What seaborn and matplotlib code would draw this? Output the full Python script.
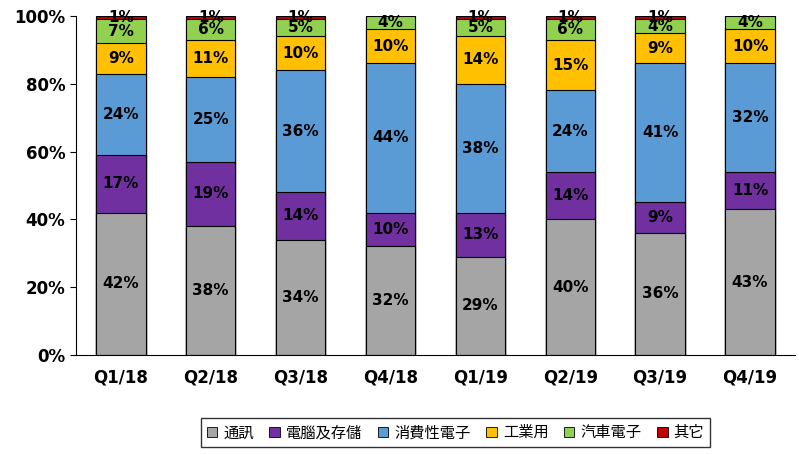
import matplotlib
matplotlib.use("Agg")
import matplotlib.pyplot as plt
import seaborn as sns
import numpy as np
import pandas as pd
from matplotlib.patches import Patch
from matplotlib.font_manager import FontProperties

quarters = ["Q1/18", "Q2/18", "Q3/18", "Q4/18", "Q1/19", "Q2/19", "Q3/19", "Q4/19"]
series_names = ["通訊", "電腦及存儲", "消費性電子", "工業用", "汽車電子", "其它"]
comm = [42, 38, 34, 32, 29, 40, 36, 43]
pc = [17, 19, 14, 10, 13, 14, 9, 11]
consumer = [24, 25, 36, 44, 38, 24, 41, 32]
industrial = [9, 11, 10, 10, 14, 15, 9, 10]
auto = [7, 6, 5, 4, 5, 6, 4, 4]
other = [1, 1, 1, 0, 1, 1, 1, 0]
colors = ["#a5a5a5", "#7030a0", "#5b9bd5", "#ffc000", "#92d050", "#c00000"]

series = [comm, pc, consumer, industrial, auto, other]
vals = np.array(series, dtype=float)
cum = np.cumsum(vals, axis=0)

fig = plt.figure(figsize=(7.99, 4.55), dpi=100)
ax = fig.add_axes([0.095, 0.22, 0.9, 0.745])

for i in range(len(series) - 1, -1, -1):
    df = pd.DataFrame({"q": quarters, "v": cum[i]})
    sns.barplot(data=df, x="q", y="v", color=colors[i], edgecolor="black",
                linewidth=0.8, width=0.55, saturation=1, ax=ax)

for i in range(len(series)):
    for j in range(len(quarters)):
        v = vals[i, j]
        if v <= 0:
            continue
        y = cum[i, j] - v / 2
        ax.text(j, y, f"{int(v)}%", ha="center", va="center", fontsize=11,
                fontweight="bold", color="black", family="DejaVu Sans")

ax.set_ylim(0, 100)
ax.set_xlim(-0.5, 7.5)
ax.set_yticks(range(0, 101, 20))
ax.set_yticklabels([f"{t}%" for t in range(0, 101, 20)], fontsize=12, fontweight="bold", family="DejaVu Sans")
ax.set_xticklabels(quarters, fontsize=12, fontweight="bold", family="DejaVu Sans")
ax.set_xlabel("")
ax.set_ylabel("")
ax.tick_params(axis="x", length=0, pad=10)
ax.tick_params(axis="y", length=4)
for s in ["top", "right"]:
    ax.spines[s].set_visible(False)

handles = [Patch(facecolor=c, edgecolor="black", linewidth=0.6) for c in colors]
fig.legend(handles, series_names, loc="lower center", bbox_to_anchor=(0.57, 0.0),
           ncol=6, frameon=True, fancybox=False, edgecolor="black",
           prop=FontProperties(family="Noto Sans CJK JP", size=11),
           handlelength=0.7, handleheight=0.7, columnspacing=1.0, handletextpad=0.4)

fig.savefig("out.png", dpi=100)
